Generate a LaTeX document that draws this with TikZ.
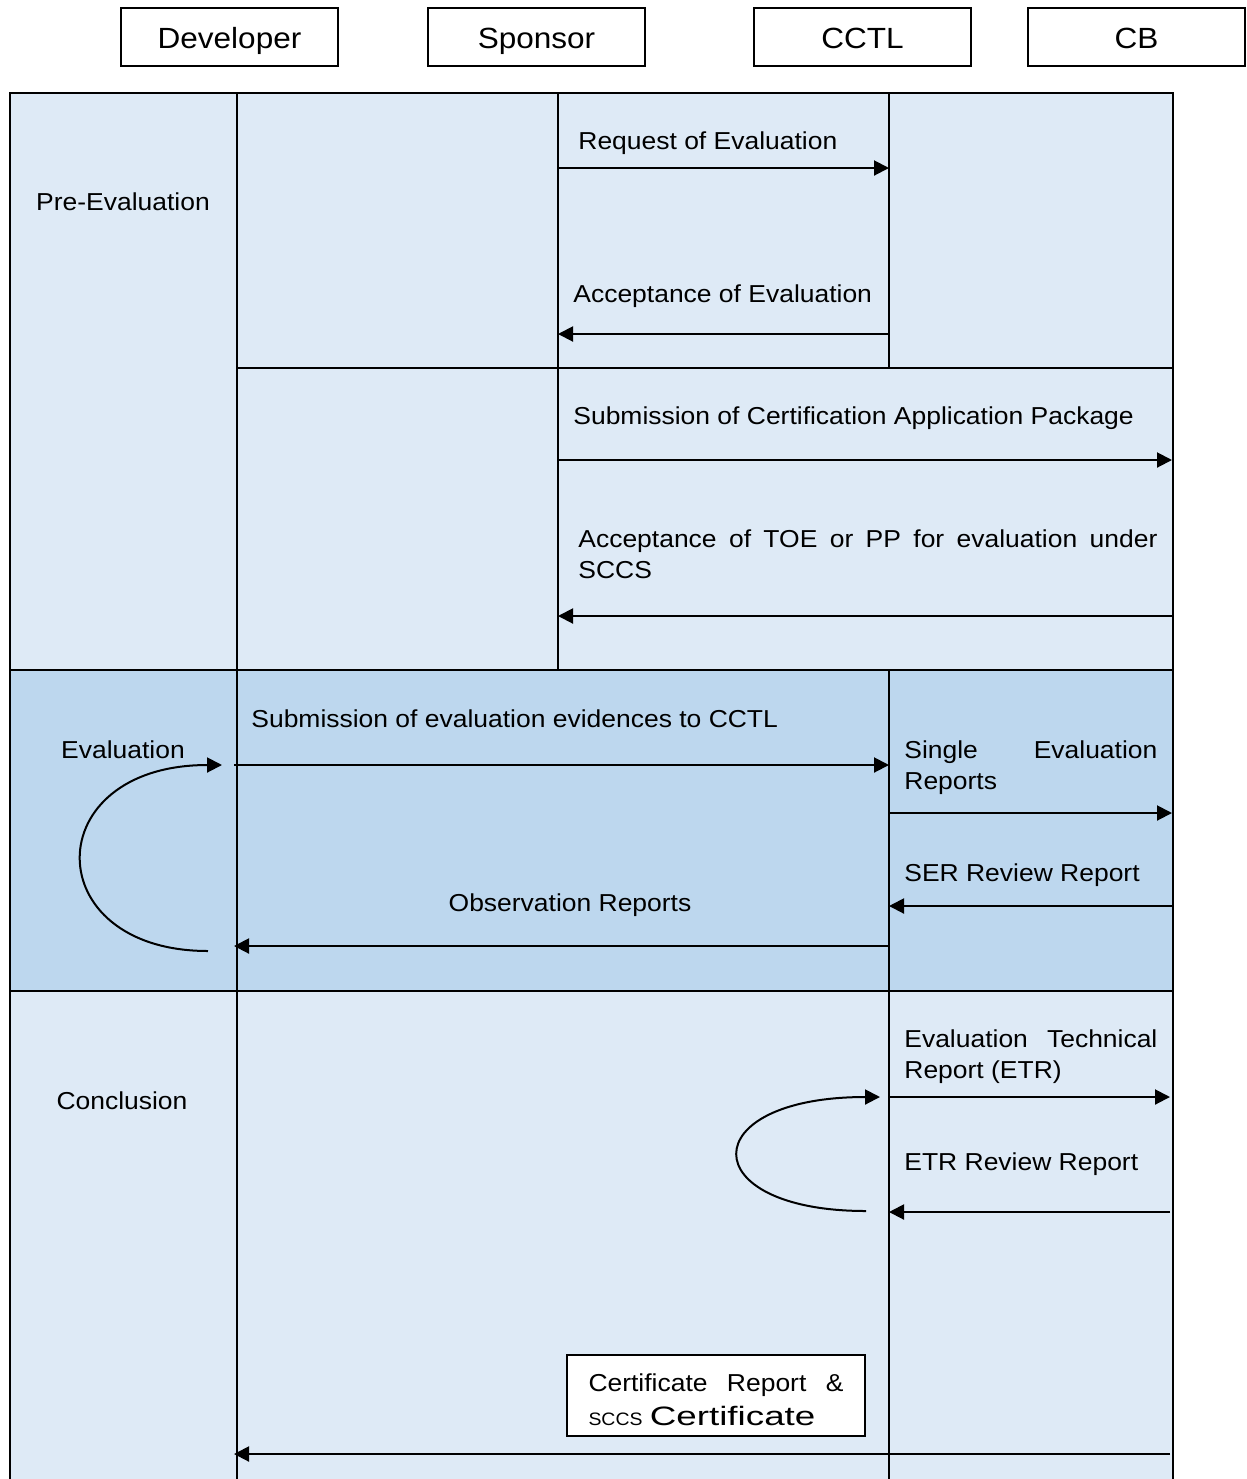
\documentclass[tikz,border=0pt]{standalone}
\usepackage{fontspec}
\setmainfont{Liberation Sans}[FakeStretch=1.08]
\usepackage{xcolor}
\usepackage{graphicx}
\usetikzlibrary{arrows.meta}

\definecolor{paleBlue}{HTML}{DEEAF6}
\definecolor{midBlue}{HTML}{BDD7EE}

\begin{document}
\begin{tikzpicture}[
    x=0.5pt, y=-0.5pt,
    actor/.style={draw, line width=0.8pt, minimum width=108.5pt, minimum height=29pt,
      text height=11pt, text depth=0pt, font=\fontsize{14.6}{17}\selectfont},
    phase/.style={anchor=base, inner sep=0pt, font=\fontsize{12.25}{15.5}\selectfont},
    msg/.style={anchor=base west, inner sep=0pt, font=\fontsize{12.25}{15.5}\selectfont},
    wideMsg/.style={msg, text width=#1, align=justify,
      execute at begin node={\tolerance=9999\hyphenpenalty=10000}},
    grid/.style={line width=1pt},
    flow/.style={line width=1pt, ->},
    >={Triangle[length=7.5pt, width=7.5pt]}
  ]
  \useasboundingbox (0,0) rectangle (1247,1479);

  \node[actor] (developer) at (229.5,37) {Developer};
  \node[actor] (sponsor) at (536.5,37) {Sponsor};
  \node[actor] (cctl) at (862.5,37) {CCTL};
  \node[actor] (cb) at (1136.5,37) {CB};

  \fill[paleBlue] (10,93) rectangle (1173,670);
  \fill[midBlue] (10,670) rectangle (1173,991);
  \fill[paleBlue] (10,991) rectangle (1173,1479);

  \draw[grid] (10,1479) -- (10,93) -- (1173,93) -- (1173,1479);
  \draw[grid] (10,670) -- (1173,670);
  \draw[grid] (10,991) -- (1173,991);
  \draw[grid] (237,368) -- (1173,368);
  \draw[grid] (237,93) -- (237,1479);
  \draw[grid] (558,93) -- (558,670);
  \draw[grid] (889,93) -- (889,368);
  \draw[grid] (889,670) -- (889,1479);

  \node[phase] (preEval) at (123,210) {Pre-Evaluation};
  \node[phase] (evalPhase) at (123,758) {Evaluation};
  \node[phase] (conclusion) at (122,1109) {Conclusion};

  \node[msg] (reqEval) at (578,149) {Request of Evaluation};
  \node[msg] (accEval) at (573,302) {Acceptance of Evaluation};
  \node[msg] (subPkg) at (573,424) {Submission of Certification Application Package};
  \node[wideMsg=289.5pt] (accToe) at (578,547) {Acceptance of TOE or PP for evaluation under SCCS};
  \node[msg] (subEvid) at (251,727) {Submission of evaluation evidences to CCTL};
  \node[wideMsg=126.5pt] (serMsg) at (904,758) {Single Evaluation Reports};
  \node[msg] (serReview) at (904,881) {SER Review Report};
  \node[phase] (obsReports) at (570,911) {Observation Reports};
  \node[wideMsg=126.5pt] (etrMsg) at (904,1047) {Evaluation Technical Report (ETR)};
  \node[msg] (etrReview) at (904,1170) {ETR Review Report};
  \node[draw, fill=white, line width=0.8pt, text width=127.5pt, inner xsep=10.75pt, inner ysep=0pt,
    minimum height=40.5pt, align=justify, font=\fontsize{12.25}{17}\selectfont,
    execute at begin node={\tolerance=9999\hyphenpenalty=10000}]
    (certBox) at (716,1395.5)
    {\rule{0pt}{12.7pt}Certificate Report \& {\fontsize{9}{17}\selectfont SCCS} \scalebox{1.28}[1]{\fontsize{13.3}{17}\selectfont Certificate}};

  \coordinate (reqFrom) at (558,168);
  \coordinate (reqTo) at (889,168);
  \coordinate (accFrom) at (889,334);
  \coordinate (accTo) at (558,334);
  \coordinate (pkgFrom) at (558,460);
  \coordinate (pkgTo) at (1172,460);
  \coordinate (toeFrom) at (1172,616);
  \coordinate (toeTo) at (558,616);
  \coordinate (evidFrom) at (234,765);
  \coordinate (evidTo) at (889,765);
  \coordinate (serFrom) at (889,813);
  \coordinate (serTo) at (1172,813);
  \coordinate (serRevFrom) at (1172,906);
  \coordinate (serRevTo) at (889,906);
  \coordinate (obsFrom) at (889,946);
  \coordinate (obsTo) at (234,946);
  \coordinate (devLoopFrom) at (208,951);
  \coordinate (devLoopTo) at (222,765);
  \coordinate (etrFrom) at (889,1097);
  \coordinate (etrTo) at (1170,1097);
  \coordinate (etrRevFrom) at (1170,1212);
  \coordinate (etrRevTo) at (889,1212);
  \coordinate (labLoopFrom) at (866,1211);
  \coordinate (labLoopTo) at (880,1097);
  \coordinate (certFrom) at (1170,1454);
  \coordinate (certTo) at (234,1454);

  \draw[flow] (reqFrom) -- (reqTo);
  \draw[flow] (accFrom) -- (accTo);
  \draw[flow] (pkgFrom) -- (pkgTo);
  \draw[flow] (toeFrom) -- (toeTo);
  \draw[flow] (evidFrom) -- (evidTo);
  \draw[flow] (serFrom) -- (serTo);
  \draw[flow] (serRevFrom) -- (serRevTo);
  \draw[flow] (obsFrom) -- (obsTo);
  \draw[flow] (devLoopFrom) .. controls (37,951) and (37,765) .. (devLoopTo);
  \draw[flow] (etrFrom) -- (etrTo);
  \draw[flow] (etrRevFrom) -- (etrRevTo);
  \draw[flow] (labLoopFrom) .. controls (693,1211) and (693,1097) .. (labLoopTo);
  \draw[flow] (certFrom) -- (certTo);
\end{tikzpicture}
\end{document}
